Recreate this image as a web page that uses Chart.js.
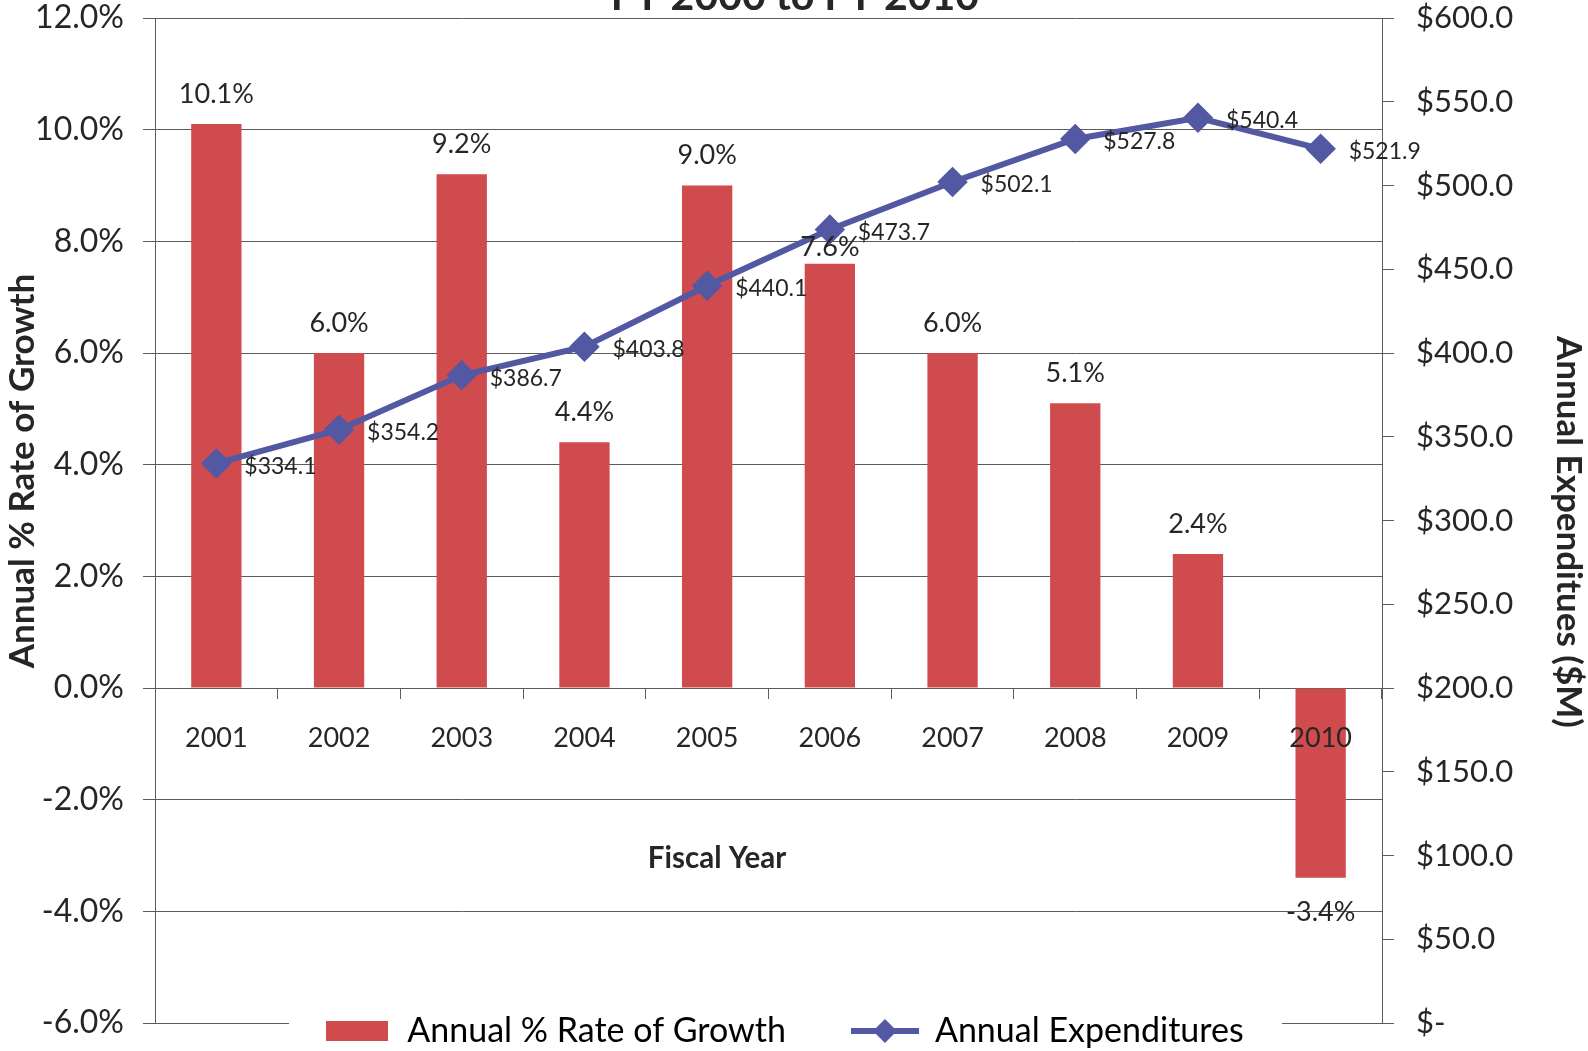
<!DOCTYPE html>
<html>
<head>
<meta charset="utf-8">
<script src="https://cdn.jsdelivr.net/npm/chart.js@4.4.1/dist/chart.umd.min.js"></script>
<style>
  html, body { margin: 0; padding: 0; background: #fff; }
  canvas { display: block; }
</style>
</head>
<body>
<canvas id="chart" width="1588" height="1051"></canvas>
<script>
const years = ["2001", "2002", "2003", "2004", "2005", "2006", "2007", "2008", "2009", "2010"];
const growthPct = [10.1, 6.0, 9.2, 4.4, 9.0, 7.6, 6.0, 5.1, 2.4, -3.4];
const expenditures = [334.1, 354.2, 386.7, 403.8, 440.1, 473.7, 502.1, 527.8, 540.4, 521.9];

const FONT = "Lato";
const barColor = "#cf4b4d";
const lineColor = "#5258a2";
const gridColor = "#5c5c5c";
const textColor = "#262626";

// legend symbols, drawn once
const barIcon = document.createElement("canvas");
barIcon.width = 62; barIcon.height = 20;
barIcon.getContext("2d").fillStyle = barColor;
barIcon.getContext("2d").fillRect(0, 0, 62, 20);

const lineIcon = document.createElement("canvas");
lineIcon.width = 68; lineIcon.height = 26;
(function () {
  const c = lineIcon.getContext("2d");
  c.strokeStyle = lineColor; c.fillStyle = lineColor; c.lineWidth = 6;
  c.beginPath(); c.moveTo(0, 13); c.lineTo(68, 13); c.stroke();
  c.beginPath(); c.moveTo(34, 1); c.lineTo(46, 13); c.lineTo(34, 25); c.lineTo(22, 13); c.closePath(); c.fill();
})();

const extras = {
  id: "extras",
  afterLayout(chart) {
    // legend sits on top of the bottom edge of the plot
    const lg = chart.legend;
    lg.top = 948; lg.bottom = 1051; lg.height = lg.bottom - lg.top;
    lg.left -= 10; lg.right -= 10;
  },
  beforeDatasetsDraw(chart) {
    const { ctx, chartArea, scales } = chart;
    const y = Math.round(scales.y.getPixelForValue(-6)) + 0.5;
    ctx.save();
    ctx.strokeStyle = gridColor; ctx.lineWidth = 1;
    ctx.beginPath();
    ctx.moveTo(chartArea.left, y); ctx.lineTo(289, y);
    ctx.moveTo(1282, y); ctx.lineTo(chartArea.right, y);
    ctx.stroke();
    ctx.restore();
  },
  afterDatasetsDraw(chart) {
    const ctx = chart.ctx;
    ctx.save();
    ctx.fillStyle = textColor;
    ctx.textBaseline = "middle";

    // bar value labels (the 2006 one was dragged down a bit in the original)
    ctx.font = `27px ${FONT}`;
    ctx.textAlign = "center";
    chart.getDatasetMeta(1).data.forEach((el, i) => {
      const v = growthPct[i];
      const gap = i === 5 ? 16 : 30;
      const y = v >= 0 ? el.y - gap : el.y + 34;
      ctx.fillText(v.toFixed(1) + "%", el.x, y);
    });

    // line value labels
    ctx.font = `23px ${FONT}`;
    ctx.textAlign = "left";
    chart.getDatasetMeta(0).data.forEach((el, i) => {
      ctx.fillText("$" + expenditures[i].toFixed(1), el.x + 28, el.y + 3);
    });

    // titles
    ctx.font = `bold 41px ${FONT}`;
    ctx.textAlign = "center";
    ctx.textBaseline = "alphabetic";
    ctx.fillText("FY 2000 to FY 2010", 795, 10);

    ctx.textBaseline = "middle";
    ctx.font = `bold 29.5px ${FONT}`;
    ctx.fillText("Fiscal Year", 717, 858);

    ctx.font = `bold 35px ${FONT}`;
    ctx.save();
    ctx.translate(23, 471);
    ctx.rotate(-Math.PI / 2);
    ctx.fillText("Annual % Rate of Growth", 0, 0);
    ctx.restore();

    ctx.save();
    ctx.translate(1568, 532);
    ctx.rotate(Math.PI / 2);
    ctx.fillText("Annual Expenditues ($M)", 0, 0);
    ctx.restore();

    ctx.restore();
  }
};

// keep the plot edges where the reference has them
const fixLeft = s => { s.width = 155; s.paddingTop = 18; s.paddingBottom = 0; };
const fixRight = s => { s.width = 206; s.paddingTop = 18; s.paddingBottom = 0; };

const chart = new Chart(document.getElementById("chart").getContext("2d"), {
  data: {
    labels: years,
    datasets: [
      {
        type: "line",
        label: "Annual Expenditures",
        data: expenditures,
        yAxisID: "y2",
        borderColor: lineColor,
        backgroundColor: lineColor,
        borderWidth: 6,
        pointStyle: "rectRot",
        pointRadius: 11,
        pointHoverRadius: 11,
        tension: 0,
        order: 0
      },
      {
        type: "bar",
        label: "Annual % Rate of Growth",
        data: growthPct,
        yAxisID: "y",
        backgroundColor: barColor,
        categoryPercentage: 0.82,
        barPercentage: 0.5,
        order: 1
      }
    ]
  },
  options: {
    responsive: false,
    animation: false,
    layout: { padding: 0 },
    scales: {
      x: {
        type: "category",
        position: { y: 0 },
        offset: true,
        grid: { drawOnChartArea: false, drawTicks: true, tickLength: 10, color: gridColor, offset: true },
        border: { color: gridColor },
        ticks: { font: { family: FONT, size: 27 }, color: textColor, padding: 24, z: 1 }
      },
      y: {
        position: "left",
        min: -6,
        max: 12,
        ticks: {
          stepSize: 2,
          padding: 19,
          font: { family: FONT, size: 32, lineHeight: 1.1 },
          color: textColor,
          callback: v => v.toFixed(1) + "%"
        },
        grid: {
          color: ctx => (ctx.tick && ctx.tick.value === -6 ? "rgba(0,0,0,0)" : gridColor),
          tickColor: gridColor,
          tickLength: 12
        },
        border: { color: gridColor },
        afterFit: fixLeft
      },
      y2: {
        position: "right",
        min: 0,
        max: 600,
        ticks: {
          stepSize: 50,
          padding: 22,
          font: { family: FONT, size: 31, lineHeight: 1.1 },
          color: textColor,
          callback: v => (v === 0 ? "$-" : "$" + v.toFixed(1))
        },
        grid: { drawOnChartArea: false, color: gridColor, tickLength: 12 },
        border: { color: gridColor },
        afterFit: fixRight
      }
    },
    plugins: {
      title: { display: false },
      tooltip: { enabled: false },
      legend: {
        position: "bottom",
        maxHeight: 28,
        labels: {
          usePointStyle: true,
          pointStyleWidth: 66,
          padding: 66,
          color: textColor,
          font: { family: FONT, size: 34 },
          generateLabels: () => [
            { text: "Annual % Rate of Growth", pointStyle: barIcon, fillStyle: barColor, strokeStyle: barColor, lineWidth: 0, hidden: false, datasetIndex: 1 },
            { text: "Annual Expenditures", pointStyle: lineIcon, fillStyle: lineColor, strokeStyle: lineColor, lineWidth: 0, hidden: false, datasetIndex: 0 }
          ]
        }
      }
    }
  },
  plugins: [extras]
});
</script>
</body>
</html>
